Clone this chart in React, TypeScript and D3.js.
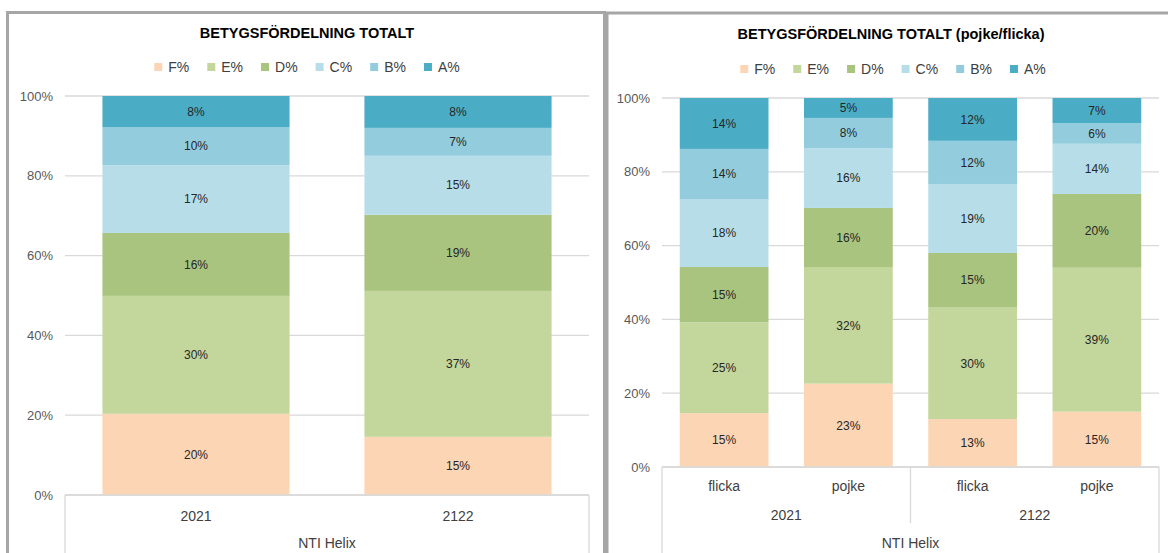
import React from "react";
import * as d3 from "d3";

const grades = ["F%", "E%", "D%", "C%", "B%", "A%"];
const gradeColors = ["#fcd5b5", "#c3d69b", "#a9c47f", "#b7dee8", "#93cddd", "#4bacc6"];
const yTicks = [0, 0.2, 0.4, 0.6, 0.8, 1.0];

// Left chart: totals per school year
const leftCategories = ["2021", "2122"];
const leftF = [20.4, 14.6];
const leftE = [29.6, 36.6];
const leftD = [15.8, 19.1];
const leftC = [17.0, 14.8];
const leftB = [9.6, 7.0];
const leftA = [7.8, 8.0];

// Right chart: per gender per school year
const rightGroups = ["2021", "2122"];
const rightSub = ["flicka", "pojke", "flicka", "pojke"];
const rightGroupOf = ["2021", "2021", "2122", "2122"];
const rightF = [14.6, 22.6, 13.0, 15.0];
const rightE = [24.6, 31.6, 30.2, 39.0];
const rightD = [15.0, 16.0, 14.8, 20.0];
const rightC = [18.3, 16.2, 18.7, 13.6];
const rightB = [13.7, 8.2, 11.7, 5.6];
const rightA = [13.8, 5.4, 11.6, 6.8];

const FONT = "'Liberation Sans', Arial, sans-serif";

let ctx: CanvasRenderingContext2D | null = null;
function measure(text: string, font: string): number {
  if (!ctx) ctx = document.createElement("canvas").getContext("2d");
  if (!ctx) return text.length * 7;
  ctx.font = font;
  return ctx.measureText(text).width;
}

type Row = { key: string; [g: string]: any };

function buildRows(keys: string[], series: number[][]): Row[] {
  return keys.map((k, i) => {
    const r: Row = { key: k };
    grades.forEach((g, j) => (r[g] = series[j][i]));
    return r;
  });
}

function Legend({ cx, y }: { cx: number; y: number }) {
  const font = `14px ${FONT}`;
  const marker = 8;
  const gapM = 6;
  const gapItem = 18;
  const widths = grades.map((g) => marker + gapM + measure(g, font));
  const total = d3.sum(widths) + gapItem * (grades.length - 1);
  let x = cx - total / 2;
  const items = grades.map((g, i) => {
    const x0 = x;
    x += widths[i] + gapItem;
    return (
      <g key={g} transform={`translate(${x0},${y})`}>
        <rect x={0} y={-marker / 2} width={marker} height={marker} fill={gradeColors[i]} />
        <text x={marker + gapM} y={0} dy="0.35em" fontSize={14} fill="#404040" fontFamily={FONT}>
          {g}
        </text>
      </g>
    );
  });
  return <g>{items}</g>;
}

function Plot({
  keys,
  series,
  x0,
  x1,
  yTop,
  yBottom,
}: {
  keys: string[];
  series: number[][];
  x0: number;
  x1: number;
  yTop: number;
  yBottom: number;
}) {
  const ids = keys.map((_, i) => String(i));
  const rows = buildRows(ids, series);
  const stack = d3.stack<Row>().keys(grades).offset(d3.stackOffsetExpand);
  const stacked = stack(rows);
  const x = d3.scaleBand().domain(ids).range([x0, x1]).paddingInner(0.4 / 1.4).paddingOuter(0.2 / 1.4);
  const y = d3.scaleLinear().domain([0, 1]).range([yBottom, yTop]);
  const fmt = d3.format(".0%");
  return (
    <g>
      {yTicks.map((t) => (
        <g key={t}>
          <line x1={x0} x2={x1} y1={y(t)} y2={y(t)} stroke="#d9d9d9" strokeWidth={1.3} />
          <text x={x0 - 12} y={y(t)} dy="0.35em" textAnchor="end" fontSize={13} fill="#595959" fontFamily={FONT}>
            {fmt(t)}
          </text>
        </g>
      ))}
      {stacked.map((s, si) => (
        <g key={s.key}>
          {s.map((d, i) => {
            const top = y(d[1]);
            const bot = y(d[0]);
            const raw = series[si][i];
            return (
              <g key={i}>
                <rect x={x(ids[i])} y={top} width={x.bandwidth()} height={bot - top} fill={gradeColors[si]} />
                <text
                  x={(x(ids[i]) as number) + x.bandwidth() / 2}
                  y={(top + bot) / 2}
                  dy="0.35em"
                  textAnchor="middle"
                  fontSize={12}
                  fill="#262626"
                  fontFamily={FONT}
                >
                  {Math.round(raw) + "%"}
                </text>
              </g>
            );
          })}
        </g>
      ))}
    </g>
  );
}

export default function App() {
  const W = 1168;
  const H = 553;
  const border = "#a6a6a6";

  // Left chart geometry
  const L = { x0: 65, x1: 589, yTop: 96, yBottom: 495 };
  // Right chart geometry
  const R = { x0: 662, x1: 1159, yTop: 98, yBottom: 467 };

  const leftSeries = [leftF, leftE, leftD, leftC, leftB, leftA];
  const rightSeries = [rightF, rightE, rightD, rightC, rightB, rightA];

  const xl = d3.scaleBand().domain(leftCategories).range([L.x0, L.x1]);
  const rightIds = rightSub.map((_, i) => String(i));
  const xr = d3.scaleBand().domain(rightIds).range([R.x0, R.x1]);
  const xg = d3.scaleBand().domain(rightGroups).range([R.x0, R.x1]);

  const axisColor = "#d9d9d9";
  const labelColor = "#404040";

  return (
    <svg width={W} height={H} style={{ position: "absolute", left: 0, top: 0, background: "#fff" }}>
      <rect x={0} y={0} width={W} height={H} fill="#fff" />
      {/* frames */}
      <rect x={7.5} y={12.5} width={597} height={H} fill="none" stroke={border} strokeWidth={3} />
      <rect x={607} y={13} width={W} height={H} fill="none" stroke={border} strokeWidth={3} />

      {/* LEFT CHART */}
      <text x={307} y={33} dy="0.35em" textAnchor="middle" fontSize={14.5} fontWeight="bold" fill="#000" fontFamily={FONT}>
        BETYGSFÖRDELNING TOTALT
      </text>
      <Legend cx={307} y={67} />
      <Plot keys={leftCategories} series={leftSeries} {...L} />
      <line x1={L.x0} x2={L.x1} y1={L.yBottom} y2={L.yBottom} stroke={axisColor} strokeWidth={1.3} />
      <line x1={L.x0} x2={L.x0} y1={L.yBottom} y2={H} stroke={axisColor} strokeWidth={1.3} />
      <line x1={L.x1} x2={L.x1} y1={L.yBottom} y2={H} stroke={axisColor} strokeWidth={1.3} />
      {leftCategories.map((c) => (
        <text key={c} x={(xl(c) as number) + xl.bandwidth() / 2} y={516} dy="0.35em" textAnchor="middle" fontSize={14} fill={labelColor} fontFamily={FONT}>
          {c}
        </text>
      ))}
      <text x={(L.x0 + L.x1) / 2} y={543} dy="0.35em" textAnchor="middle" fontSize={14} fill={labelColor} fontFamily={FONT}>
        NTI Helix
      </text>

      {/* RIGHT CHART */}
      <text x={891} y={34} dy="0.35em" textAnchor="middle" fontSize={14.5} fontWeight="bold" fill="#000" fontFamily={FONT}>
        BETYGSFÖRDELNING TOTALT (pojke/flicka)
      </text>
      <Legend cx={893} y={69} />
      <Plot keys={rightSub} series={rightSeries} {...R} />
      <line x1={R.x0} x2={R.x1} y1={R.yBottom} y2={R.yBottom} stroke={axisColor} strokeWidth={1.3} />
      <line x1={R.x0} x2={R.x0} y1={R.yBottom} y2={H} stroke={axisColor} strokeWidth={1.3} />
      <line x1={R.x1} x2={R.x1} y1={R.yBottom} y2={H} stroke={axisColor} strokeWidth={1.3} />
      {rightGroups.slice(1).map((g) => (
        <line key={g} x1={xg(g)} x2={xg(g)} y1={R.yBottom} y2={523} stroke={axisColor} strokeWidth={1.3} />
      ))}
      {rightSub.map((s, i) => (
        <text key={i} x={(xr(rightIds[i]) as number) + xr.bandwidth() / 2} y={486} dy="0.35em" textAnchor="middle" fontSize={14} fill={labelColor} fontFamily={FONT}>
          {s}
        </text>
      ))}
      {rightGroups.map((g) => (
        <text key={g} x={(xg(g) as number) + xg.bandwidth() / 2} y={515} dy="0.35em" textAnchor="middle" fontSize={14} fill={labelColor} fontFamily={FONT}>
          {g}
        </text>
      ))}
      <text x={(R.x0 + R.x1) / 2} y={543} dy="0.35em" textAnchor="middle" fontSize={14} fill={labelColor} fontFamily={FONT}>
        NTI Helix
      </text>
      {rightGroupOf.length === 0 ? null : null}
    </svg>
  );
}
